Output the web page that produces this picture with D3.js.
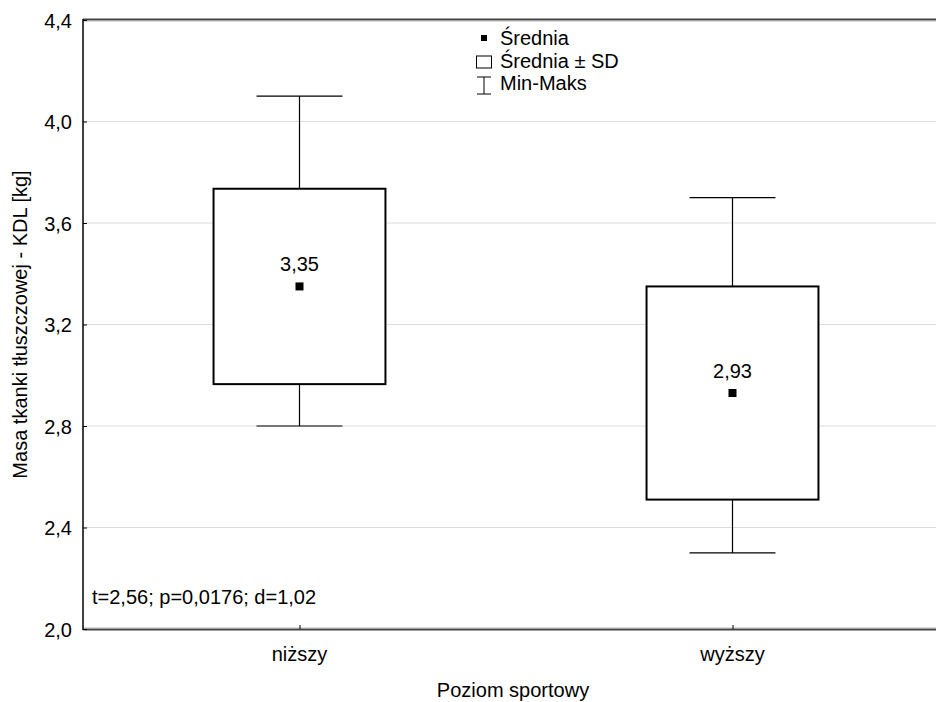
<!DOCTYPE html>
<html>
<head>
<meta charset="utf-8">
<script src="https://cdn.jsdelivr.net/npm/d3@7"></script>
<style>
  html, body { margin: 0; padding: 0; background: #fff; }
  svg { display: block; font-family: "Liberation Sans", Arial, sans-serif; }
</style>
</head>
<body>
<svg id="chart" width="936" height="702"></svg>
<script>
// data
const groups = ["niższy", "wyższy"];
const means = [3.35, 2.93];
const sds = [0.385, 0.42];
const mins = [2.8, 2.3];
const maxs = [4.1, 3.7];
const yTicks = [2.0, 2.4, 2.8, 3.2, 3.6, 4.0, 4.4];
const statsText = "t=2,56; p=0,0176; d=1,02";

const width = 936, height = 702;
const plotLeft = 83, plotTop = 20, plotBottom = 629, plotRight = 949;
const fontSize = "20px";

const svg = d3.select("#chart");
const fmt = v => d3.format(".1f")(v).replace(".", ",");
const fmt2 = v => d3.format(".2f")(v).replace(".", ",");

const x = d3.scalePoint()
  .domain(groups)
  .range([plotLeft, plotRight])
  .padding(0.5);

const y = d3.scaleLinear()
  .domain([2.0, 4.4])
  .range([plotBottom, plotTop]);

const step = x.step();
const boxW = step * 0.397;
const capW = boxW / 2;

// grid lines
svg.append("g")
  .selectAll("line")
  .data(yTicks)
  .join("line")
  .attr("x1", plotLeft)
  .attr("x2", width)
  .attr("y1", d => y(d) + (d === 4.4 ? 1.5 : d === 2.0 ? -1.5 : 0))
  .attr("y2", d => y(d) + (d === 4.4 ? 1.5 : d === 2.0 ? -1.5 : 0))
  .attr("stroke", "#dcdcdc")
  .attr("stroke-width", 1);

// frame: top and bottom
svg.append("line")
  .attr("x1", plotLeft).attr("x2", width)
  .attr("y1", plotTop - 0.5).attr("y2", plotTop - 0.5)
  .attr("stroke", "#444").attr("stroke-width", 2);
svg.append("line")
  .attr("x1", plotLeft).attr("x2", width)
  .attr("y1", plotBottom + 0.5).attr("y2", plotBottom + 0.5)
  .attr("stroke", "#444").attr("stroke-width", 2);

// y axis
const yAxis = svg.append("g")
  .attr("transform", `translate(${plotLeft},0)`)
  .call(d3.axisRight(y).tickValues(yTicks).tickSize(4).tickFormat(fmt));
yAxis.select(".domain").remove();
yAxis.append("line")
  .attr("x1", 0).attr("x2", 0)
  .attr("y1", plotTop - 1).attr("y2", plotBottom + 1)
  .attr("stroke", "#000").attr("stroke-width", 1.5);
yAxis.selectAll(".tick text")
  .attr("x", -11)
  .attr("text-anchor", "end")
  .attr("dy", "0.35em")
  .style("font-size", fontSize)
  .attr("fill", "#000");

// x axis ticks and labels
const xAxis = svg.append("g")
  .attr("transform", `translate(0,${plotBottom})`)
  .call(d3.axisTop(x).tickSize(4).tickFormat(""));
xAxis.select(".domain").remove();
svg.append("g")
  .selectAll("text")
  .data(groups)
  .join("text")
  .attr("x", d => x(d))
  .attr("y", 661)
  .attr("text-anchor", "middle")
  .style("font-size", fontSize)
  .text(d => d);

// axis titles
svg.append("text")
  .attr("x", 513)
  .attr("y", 697)
  .attr("text-anchor", "middle")
  .style("font-size", fontSize)
  .text("Poziom sportowy");

svg.append("text")
  .attr("transform", `translate(27,${(plotTop + plotBottom) / 2}) rotate(-90)`)
  .attr("text-anchor", "middle")
  .style("font-size", fontSize)
  .text("Masa tkanki tłuszczowej - KDL [kg]");

// whiskers, boxes, means
const items = groups.map((g, i) => ({ g, mean: means[i], sd: sds[i], min: mins[i], max: maxs[i] }));
const boxes = svg.append("g").selectAll("g").data(items).join("g");

boxes.append("line")
  .attr("x1", d => x(d.g)).attr("x2", d => x(d.g))
  .attr("y1", d => y(d.max)).attr("y2", d => y(d.min))
  .attr("stroke", "#000").attr("stroke-width", 1.2);
boxes.append("line")
  .attr("x1", d => x(d.g) - capW / 2).attr("x2", d => x(d.g) + capW / 2)
  .attr("y1", d => y(d.max)).attr("y2", d => y(d.max))
  .attr("stroke", "#000").attr("stroke-width", 1.2);
boxes.append("line")
  .attr("x1", d => x(d.g) - capW / 2).attr("x2", d => x(d.g) + capW / 2)
  .attr("y1", d => y(d.min)).attr("y2", d => y(d.min))
  .attr("stroke", "#000").attr("stroke-width", 1.2);

boxes.append("rect")
  .attr("x", d => x(d.g) - boxW / 2)
  .attr("width", boxW)
  .attr("y", d => y(d.mean + d.sd))
  .attr("height", d => y(d.mean - d.sd) - y(d.mean + d.sd))
  .attr("fill", "#fff")
  .attr("stroke", "#000")
  .attr("stroke-width", 2);

boxes.append("rect")
  .attr("x", d => x(d.g) - 4)
  .attr("y", d => y(d.mean) - 4)
  .attr("width", 8).attr("height", 8)
  .attr("fill", "#000");

boxes.append("text")
  .attr("x", d => x(d.g))
  .attr("y", d => y(d.mean) - 15)
  .attr("text-anchor", "middle")
  .style("font-size", fontSize)
  .text(d => fmt2(d.mean));

// stats
svg.append("text")
  .attr("x", 92)
  .attr("y", 604)
  .style("font-size", fontSize)
  .text(statsText);

// legend
const lg = svg.append("g").attr("transform", "translate(484,0)");
lg.append("rect").attr("x", -3).attr("y", 35).attr("width", 6).attr("height", 6).attr("fill", "#000");
lg.append("rect").attr("x", -7.5).attr("y", 56).attr("width", 15).attr("height", 12)
  .attr("fill", "#fff").attr("stroke", "#000").attr("stroke-width", 1);
lg.append("line").attr("x1", -7).attr("x2", 7).attr("y1", 77).attr("y2", 77).attr("stroke", "#000");
lg.append("line").attr("x1", -7).attr("x2", 7).attr("y1", 94).attr("y2", 94).attr("stroke", "#000");
lg.append("line").attr("x1", 0).attr("x2", 0).attr("y1", 77).attr("y2", 94).attr("stroke", "#000");
lg.selectAll("text")
  .data(["Średnia", "Średnia ± SD", "Min-Maks"])
  .join("text")
  .attr("x", 16)
  .attr("y", (d, i) => 45 + i * 22.5)
  .style("font-size", fontSize)
  .text(d => d);
</script>
</body>
</html>
